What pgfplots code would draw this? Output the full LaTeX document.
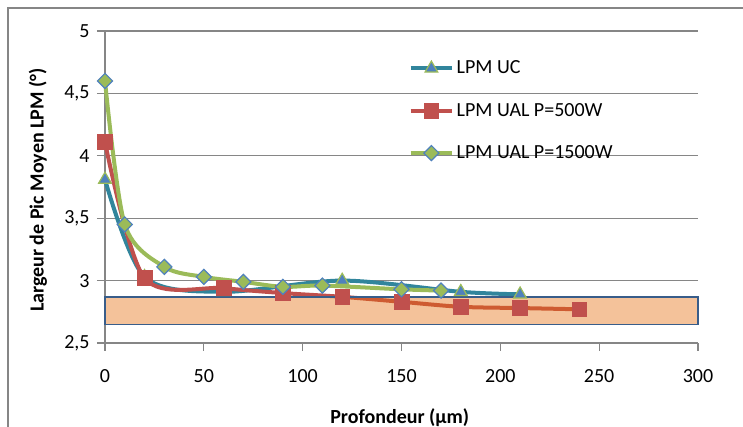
\documentclass[border=0pt]{standalone}
\usepackage{fontspec}
\setmainfont{Carlito}
\usepackage{pgfplots}
\pgfplotsset{compat=1.18}
\definecolor{gridgray}{HTML}{868686}
\definecolor{ucline}{HTML}{31859C}
\definecolor{ucfill}{HTML}{4F81BD}
\definecolor{redS}{HTML}{C0504D}
\definecolor{greenS}{HTML}{9BBB59}
\definecolor{blueO}{HTML}{4F81BD}
\definecolor{rectfill}{HTML}{E46C0A}
\definecolor{rectdraw}{HTML}{385D8A}
\newcommand{\chartfont}{\fontsize{15}{18}\selectfont}
\begin{document}
\begin{tikzpicture}
\path[use as bounding box] (0,0) rectangle (557.25pt,320.25pt);
\draw[gridgray, line width=1.2pt] (6pt,-2pt) -- (6pt,314.25pt) -- (560pt,314.25pt);
\begin{axis}[
  at={(78.75pt,63pt)}, anchor=south west,
  scale only axis, width=444.75pt, height=234pt,
  xmin=0, xmax=300, ymin=2.5, ymax=5,
  xtick={0,50,...,300}, ytick={2.5,3,...,5},
  axis lines=left, axis line style={-, gridgray, line width=0.8pt},
  tick style={gridgray, line width=0.8pt},
  tick align=outside, major tick length=6pt,
  ymajorgrids, grid style={gridgray, line width=0.8pt},
  /pgf/number format/use comma,
  /pgf/number format/assume math mode=true,
  ticklabel style={font=\chartfont, text=black},
  xticklabel style={yshift=-10pt},
  yticklabel style={xshift=-2pt},
  xlabel={\textbf{Profondeur (µm)}},
  ylabel={\textbf{Largeur de Pic Moyen LPM (°)}},
  label style={font=\chartfont},
  xlabel style={at={(axis description cs:0.497,-0.24)}, anchor=center},
  ylabel style={at={(axis description cs:-0.113,0.49)}, anchor=center, rotate=0},
  clip=false,
  legend style={at={(axis description cs:0.505,0.922)}, anchor=north west,
    draw=none, fill=none, font=\chartfont, row sep=16.5pt,
    /tikz/every even column/.append style={column sep=2pt}},
  legend cell align=left,
  legend image code/.code={\draw[#1, mark repeat=2, mark phase=2] plot coordinates {(0pt,0pt) (15.5pt,0pt) (31pt,0pt)};},
]
\addplot[ucline, line width=3pt, smooth, tension=0.5, mark=triangle*, mark size=5.5pt,
  mark options={fill=ucfill, draw=greenS, line width=0.9pt, solid}]
  coordinates {(0,3.81) (20,3.03) (60,2.91) (120,3.0) (180,2.91) (210,2.89)};
\addlegendentry{LPM UC}
\addplot[redS, line width=3pt, smooth, tension=0.5, mark=square*, mark size=5.5pt,
  mark options={fill=redS, draw=redS, line width=0.5pt, solid}]
  coordinates {(0,4.11) (20,3.02) (60,2.94) (90,2.9) (120,2.87) (150,2.83) (180,2.79) (210,2.78) (240,2.77)};
\addlegendentry{LPM UAL P=500W}
\addplot[greenS, line width=3pt, smooth, tension=0.5, mark=square*, mark size=4pt,
  mark options={rotate=45, fill=greenS, draw=blueO, line width=0.9pt, solid}]
  coordinates {(0,4.6) (10,3.45) (30,3.11) (50,3.03) (70,2.99) (90,2.95) (110,2.96) (150,2.93) (170,2.92)};
\addlegendentry{LPM UAL P=1500W}
\addplot[forget plot, draw=rectdraw, line width=1.1pt, fill=rectfill, fill opacity=0.41]
  coordinates {(0,2.647) (300,2.647) (300,2.869) (0,2.869)} -- cycle;
\end{axis}
\end{tikzpicture}
\end{document}
